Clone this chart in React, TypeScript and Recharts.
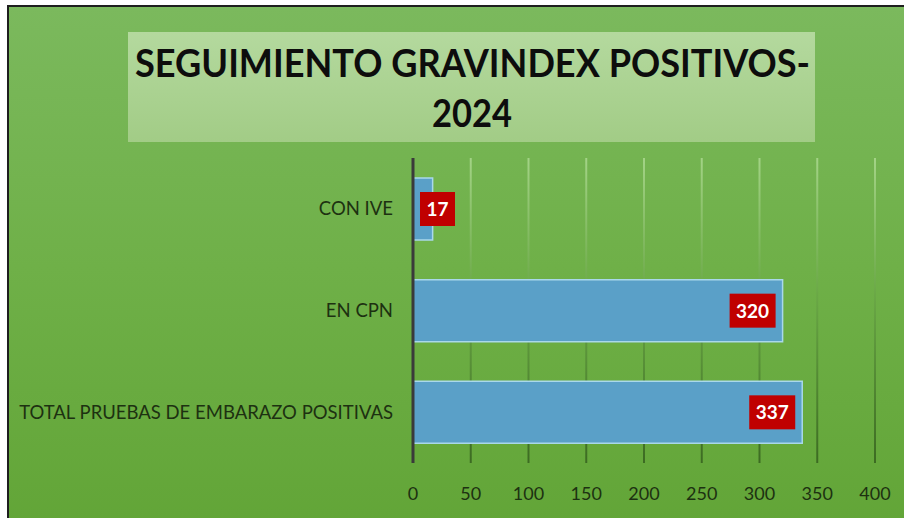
import React from 'react';
import { BarChart, Bar, XAxis, YAxis, CartesianGrid, LabelList } from 'recharts';

// values
const categories = ['CON IVE', 'EN CPN', 'TOTAL PRUEBAS DE EMBARAZO POSITIVAS'];
const values = [17, 320, 337];
const xTicks = [0, 50, 100, 150, 200, 250, 300, 350, 400];
const titleLines = ['SEGUIMIENTO GRAVINDEX POSITIVOS-', '2024'];

const data = categories.map((name, i) => ({ name, value: values[i] }));

const FONT = 'Lato, "Open Sans", sans-serif';

const renderValueLabel = (props: any) => {
  const { x, y, width, height, value } = props;
  const w = 13 + String(value).length * 11;
  const h = 34;
  const bx = Math.max(x + 7, x + width - 7 - w);
  const by = y + height / 2 - h / 2;
  return (
    <g>
      <rect x={bx} y={by} width={w} height={h} fill="#c00000" />
      <text
        x={bx + w / 2}
        y={by + h / 2}
        dy="0.36em"
        textAnchor="middle"
        fill="#ffffff"
        fontWeight="bold"
        fontSize={19}
        fontFamily={FONT}
      >
        {value}
      </text>
    </g>
  );
};

export default function App() {
  return (
    <div
      style={{
        position: 'fixed',
        left: 7,
        top: 5,
        width: 910,
        height: 520,
        borderTop: '2px solid #1e1e1e',
        borderLeft: '2px solid #1e1e1e',
        background: 'linear-gradient(to bottom, #7bb95d 0%, #6fb048 50%, #62a537 100%)',
        overflow: 'hidden',
      }}
    >
      {/* title box */}
      <div
        style={{
          position: 'absolute',
          left: 119,
          top: 25,
          width: 687,
          height: 110,
          background: 'linear-gradient(to bottom, #b4d99e, #a2cc86)',
        }}
      />
      <svg width={900} height={150} style={{ position: 'absolute', left: 0, top: 0 }}>
        <text
          x={463.5}
          y={70}
          textAnchor="middle"
          textLength={675}
          lengthAdjust="spacingAndGlyphs"
          fontFamily={FONT}
          fontWeight="bold"
          fontSize={39}
          fill="#0d0d0d"
        >
          {titleLines[0]}
        </text>
        <text
          x={463}
          y={120}
          textAnchor="middle"
          textLength={80}
          lengthAdjust="spacingAndGlyphs"
          fontFamily={FONT}
          fontWeight="bold"
          fontSize={38}
          fill="#0d0d0d"
        >
          {titleLines[1]}
        </text>
      </svg>
      <div style={{ position: 'absolute', left: 0, top: 0 }}>
        <BarChart
          width={900}
          height={520}
          data={data}
          layout="vertical"
          margin={{ top: 151, right: 34, bottom: 24, left: 0 }}
        >
          <defs>
            <linearGradient id="gridGrad" x1="0" y1="151" x2="0" y2="456" gradientUnits="userSpaceOnUse">
              <stop offset="0%" stopColor="#a3d386" />
              <stop offset="45%" stopColor="#6aa846" />
              <stop offset="100%" stopColor="#3c6b22" />
            </linearGradient>
          </defs>
          <CartesianGrid horizontal={false} stroke="url(#gridGrad)" strokeWidth={2} />
          <XAxis
            type="number"
            domain={[0, 400]}
            ticks={xTicks}
            axisLine={false}
            tickLine={false}
            tickSize={0}
            tickMargin={24}
            height={40}
            tick={{ fill: '#1d3111', fontSize: 18, fontFamily: FONT }}
          />
          <YAxis
            type="category"
            dataKey="name"
            width={404}
            axisLine={{ stroke: '#3a3a3a', strokeWidth: 3 }}
            tickLine={false}
            tickSize={0}
            tickMargin={20}
            tick={{ fill: '#1d3111', fontSize: 18.5, fontFamily: FONT }}
          />
          <Bar
            dataKey="value"
            fill="#5aa0c8"
            stroke="#a9d8ea"
            strokeWidth={1.5}
            barSize={62}
            isAnimationActive={false}
          >
            <LabelList dataKey="value" content={renderValueLabel} />
          </Bar>
        </BarChart>
      </div>
    </div>
  );
}
